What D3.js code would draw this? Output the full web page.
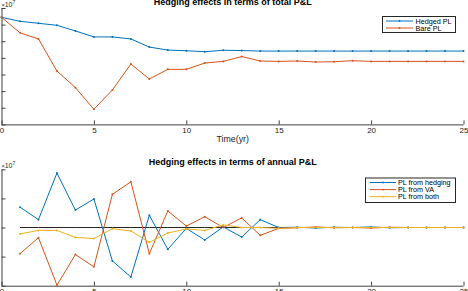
<!DOCTYPE html>
<html><head><meta charset="utf-8">
<script src="https://cdn.jsdelivr.net/npm/d3@7"></script>
<style>
body{margin:0;background:#fff;}
svg{display:block;font-family:"Liberation Sans",Arial,Helvetica,sans-serif;}
.axis path,.axis line{stroke:#404040;stroke-width:1;}
.axis text{fill:#262626;font-size:8px;}
</style></head>
<body><svg id="c" width="468" height="291"></svg>
<script>
// ---- data ----
const years = d3.range(0, 26);
const yearsAnnual = d3.range(1, 26);
const xTicks = [0, 5, 10, 15, 20, 25];
const hedgedPL = [0.44,0.20,0.08,-0.04,-0.38,-0.74,-0.74,-0.86,-1.35,-1.53,-1.57,-1.63,-1.54,-1.56,-1.59,-1.59,-1.59,-1.59,-1.59,-1.59,-1.59,-1.59,-1.59,-1.59,-1.59,-1.59];
const barePL = [0.44,-0.49,-0.86,-2.79,-3.79,-5.09,-3.93,-2.37,-3.27,-2.69,-2.69,-2.31,-2.21,-1.92,-2.19,-2.21,-2.19,-2.25,-2.23,-2.17,-2.21,-2.21,-2.21,-2.21,-2.21,-2.21];
const plHedging = [0.70,0.27,1.87,0.60,0.98,-1.15,-1.70,0.42,-0.75,-0.03,-0.43,0.02,-0.33,0.27,0.00,0.01,-0.02,0.01,0.00,0.02,-0.01,0.00,0.00,0.00,0.00];
const plVA = [-0.90,-0.35,-1.98,-0.93,-1.35,1.14,1.57,-0.90,0.57,0.05,0.37,0.00,0.33,-0.27,-0.03,-0.01,0.02,-0.01,0.00,-0.02,0.01,0.00,0.00,0.00,0.00];
const plBoth = [-0.22,-0.10,-0.10,-0.34,-0.38,-0.04,-0.12,-0.51,-0.19,-0.05,-0.10,0.09,0.00,0.00,-0.03,0.00,0.00,0.00,0.00,0.00,0.00,0.00,0.00,0.00,0.00];
const zeroLine = yearsAnnual.map(() => 0);
const topTicksY = [-6,-5,-4,-3,-2,-1,0,1];
const botTicksY = [-2,-1,0,1,2];

const C = {blue:"#0072BD", orange:"#D95319", yellow:"#EDB120", black:"#262626"};
const svg = d3.select("#c");

function panel(o){
  const x = d3.scaleLinear().domain([0,25]).range([o.left,o.right]);
  const y = d3.scaleLinear().domain(o.ydom).range([o.bottom,o.top]);
  const g = svg.append("g");
  // axes
  g.append("g").attr("class","axis").attr("transform",`translate(0,${o.bottom})`)
    .call(d3.axisBottom(x).tickValues(xTicks).tickSizeInner(-4).tickSizeOuter(0).tickPadding(3))
    .call(s=>s.select(".domain").attr("d",`M${o.left},0.5H${o.right}`));
  g.append("g").attr("class","axis").attr("transform",`translate(${o.left},0)`)
    .call(d3.axisLeft(y).tickValues(o.yticks).tickSizeInner(-4).tickSizeOuter(0).tickFormat(()=>""))
    .call(s=>s.select(".domain").attr("d",`M0.5,${o.top}V${o.bottom}`));
  // title
  g.append("text").attr("x",232.7).attr("y",o.titleY).attr("text-anchor","middle")
    .attr("font-size","9px").attr("font-weight","bold").attr("fill","#000").text(o.title);
  // exponent
  const ex = g.append("text").attr("x",1.5).attr("y",o.expY).attr("font-size","7px").attr("fill","#262626");
  ex.append("tspan").attr("font-size","5.5px").text("×");
  ex.append("tspan").text("10");
  ex.append("tspan").attr("font-size","5px").attr("dy","-3").text("7");
  return {x,y,g};
}

function series(p, xs, ys, color, marker){
  const line = d3.line().x((d,i)=>p.x(xs[i])).y(d=>p.y(d));
  p.g.append("path").datum(ys).attr("d",line).attr("fill","none")
    .attr("stroke",color).attr("stroke-width",1);
  if(marker){
    p.g.append("g").selectAll("circle").data(ys).join("circle")
      .attr("cx",(d,i)=>p.x(xs[i])).attr("cy",d=>p.y(d)).attr("r",1).attr("fill",color);
  }
}

function legend(items, bx, by, bw, bh, lineX0, lineX1, textX, y0, dy){
  const g = svg.append("g");
  g.append("rect").attr("x",bx+0.5).attr("y",by+0.5).attr("width",bw).attr("height",bh)
    .attr("fill","#fff").attr("stroke","#262626").attr("stroke-width",1);
  items.forEach((it,i)=>{
    const yy = y0 + i*dy;
    g.append("line").attr("x1",lineX0).attr("x2",lineX1).attr("y1",yy).attr("y2",yy)
      .attr("stroke",it.color).attr("stroke-width",1);
    g.append("circle").attr("cx",(lineX0+lineX1)/2).attr("cy",yy).attr("r",0.9).attr("fill",it.color);
    g.append("text").attr("x",textX).attr("y",yy+2.5).attr("font-size","7.2px").attr("fill","#000").text(it.name);
  });
}

// top panel
const p1 = panel({left:1.5,right:463.5,top:8,bottom:124.4,ydom:[-6,1],yticks:topTicksY,
  title:"Hedging effects in terms of total P&L", titleY:4.5, expY:7});
p1.g.append("text").attr("x",232.7).attr("y",141.5).attr("text-anchor","middle")
  .attr("font-size","8.8px").attr("fill","#262626").text("Time(yr)");
series(p1, years, hedgedPL, C.blue, true);
series(p1, years, barePL, C.orange, true);
legend([{name:"Hedged PL",color:C.blue},{name:"Bare PL",color:C.orange}],
  382,16,73,16,386,413,415.5,21,7);

// bottom panel
const p2 = panel({left:1.5,right:463.5,top:169.3,bottom:285.7,ydom:[-2,2],yticks:botTicksY,
  title:"Hedging effects in terms of annual P&L", titleY:165, expY:167.5});
series(p2, yearsAnnual, zeroLine, C.black, false);
series(p2, yearsAnnual, plHedging, C.blue, true);
series(p2, yearsAnnual, plVA, C.orange, true);
series(p2, yearsAnnual, plBoth, C.yellow, true);
legend([{name:"PL from hedging",color:C.blue},{name:"PL from VA",color:C.orange},{name:"PL from both",color:C.yellow}],
  365,177.5,90,24.5,370,396,398,182.5,7.1);
</script></body></html>
